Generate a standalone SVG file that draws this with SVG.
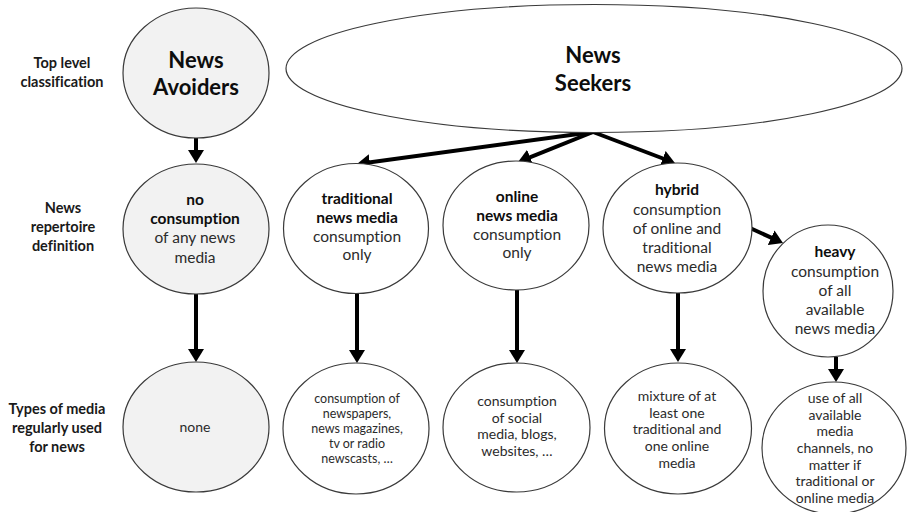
<svg xmlns="http://www.w3.org/2000/svg" width="907" height="512" viewBox="0 0 907 512">
  <style>
    text { font-family: Lato, "Open Sans", "Liberation Sans", sans-serif; text-anchor: middle; font-variant-ligatures: none; }
    .node { stroke: #3a3a3a; stroke-width: 1.2; fill: #ffffff; }
    .grey { fill: #f2f2f2; }
    .lbl { font-weight: bold; font-size: 14.5px; fill: #1a1a1a; }
    .big { font-weight: bold; font-size: 22px; fill: #0d0d0d; }
    .t { font-size: 15.5px; fill: #2b2b2b; }
    .t .b { font-weight: bold; fill: #0d0d0d; }
    .s { font-size: 12.5px; fill: #2b2b2b; }
    .m { font-size: 14px; fill: #2b2b2b; }
    .arr { stroke: #000; stroke-width: 4; fill: none; marker-end: url(#head); }
  </style>
  <defs>
    <marker id="head" markerUnits="userSpaceOnUse" viewBox="0 0 13 16" markerWidth="13" markerHeight="16" refX="3" refY="8" orient="auto">
      <path d="M0,0 L13,8 L0,16 z" fill="#000"/>
    </marker>
  </defs>

  <!-- row labels -->
  <g id="row-labels">
    <text class="lbl" x="62" y="68">Top level</text>
    <text class="lbl" x="62" y="87">classification</text>
    <text class="lbl" x="63" y="213">News</text>
    <text class="lbl" x="63" y="232">repertoire</text>
    <text class="lbl" x="63" y="251">definition</text>
    <text class="lbl" x="57" y="414">Types of media</text>
    <text class="lbl" x="57" y="433">regularly used</text>
    <text class="lbl" x="57" y="452">for news</text>
  </g>

  <!-- connectors -->
  <g id="connectors">
    <line class="arr" x1="196" y1="138" x2="196" y2="153"/>
    <line class="arr" x1="196" y1="294" x2="196" y2="352"/>
    <line class="arr" x1="593" y1="132" x2="366.9" y2="162.7"/>
    <line class="arr" x1="593" y1="132" x2="527.3" y2="158.3"/>
    <line class="arr" x1="593" y1="132" x2="665.6" y2="159.5"/>
    <line class="arr" x1="750" y1="228" x2="773.9" y2="238.9"/>
    <line class="arr" x1="357" y1="293" x2="357" y2="353"/>
    <line class="arr" x1="517" y1="290" x2="517" y2="353"/>
    <line class="arr" x1="678" y1="293" x2="678" y2="352"/>
    <line class="arr" x1="836" y1="357" x2="836" y2="372"/>
  </g>

  <!-- top level -->
  <g id="news-avoiders">
    <ellipse class="node grey" cx="196" cy="73" rx="73" ry="65"/>
    <text class="big" x="196" y="68">News</text>
    <text class="big" x="196" y="95">Avoiders</text>
  </g>
  <g id="news-seekers">
    <ellipse class="node" cx="594" cy="68.5" rx="308" ry="64"/>
    <text class="big" x="593" y="63">News</text>
    <text class="big" x="593" y="91">Seekers</text>
  </g>

  <!-- repertoire definitions -->
  <g id="no-consumption">
    <ellipse class="node grey" cx="196" cy="229" rx="73" ry="65"/>
    <text class="t" x="195" y="205"><tspan class="b">no</tspan></text>
    <text class="t" x="195" y="224"><tspan class="b">consumption</tspan></text>
    <text class="t" x="195" y="243">of any news</text>
    <text class="t" x="195" y="263">media</text>
  </g>
  <g id="traditional-only">
    <ellipse class="node" cx="356" cy="228.5" rx="72.5" ry="65"/>
    <text class="t" x="357" y="204"><tspan class="b">traditional</tspan></text>
    <text class="t" x="357" y="223"><tspan class="b">news media</tspan></text>
    <text class="t" x="357" y="242">consumption</text>
    <text class="t" x="357" y="260">only</text>
  </g>
  <g id="online-only">
    <ellipse class="node" cx="516" cy="225.5" rx="73" ry="64.5"/>
    <text class="t" x="517" y="202"><tspan class="b">online</tspan></text>
    <text class="t" x="517" y="221"><tspan class="b">news media</tspan></text>
    <text class="t" x="517" y="240">consumption</text>
    <text class="t" x="517" y="258">only</text>
  </g>
  <g id="hybrid">
    <ellipse class="node" cx="677.5" cy="228" rx="74.5" ry="65"/>
    <text class="t" x="677" y="195"><tspan class="b">hybrid</tspan></text>
    <text class="t" x="677" y="215">consumption</text>
    <text class="t" x="677" y="234">of online and</text>
    <text class="t" x="677" y="253">traditional</text>
    <text class="t" x="677" y="272">news media</text>
  </g>
  <g id="heavy">
    <ellipse class="node" cx="828" cy="291" rx="65" ry="66"/>
    <text class="t" x="835" y="257"><tspan class="b">heavy</tspan></text>
    <text class="t" x="835" y="277">consumption</text>
    <text class="t" x="835" y="296">of all</text>
    <text class="t" x="835" y="315">available</text>
    <text class="t" x="835" y="334">news media</text>
  </g>

  <!-- media types -->
  <g id="none">
    <ellipse class="node grey" cx="196" cy="427" rx="73" ry="65"/>
    <text class="m" x="195" y="432">none</text>
  </g>
  <g id="traditional-media">
    <ellipse class="node" cx="356" cy="428.5" rx="73" ry="65.5"/>
    <text class="s" x="357" y="403">consumption of</text>
    <text class="s" x="357" y="418">newspapers,</text>
    <text class="s" x="357" y="433">news magazines,</text>
    <text class="s" x="357" y="448">tv or radio</text>
    <text class="s" x="357" y="463">newscasts, …</text>
  </g>
  <g id="online-media">
    <ellipse class="node" cx="516.5" cy="427.5" rx="73.5" ry="64.5"/>
    <text class="m" x="517" y="406">consumption</text>
    <text class="m" x="517" y="423">of social</text>
    <text class="m" x="517" y="439">media, blogs,</text>
    <text class="m" x="517" y="456">websites, …</text>
  </g>
  <g id="mixed-media">
    <ellipse class="node" cx="678" cy="428.5" rx="73.5" ry="65.5"/>
    <text class="m" x="677" y="401">mixture of at</text>
    <text class="m" x="677" y="418">least one</text>
    <text class="m" x="677" y="434">traditional and</text>
    <text class="m" x="677" y="451">one online</text>
    <text class="m" x="677" y="468">media</text>
  </g>
  <g id="all-media">
    <ellipse class="node" cx="834" cy="448" rx="72" ry="66"/>
    <text class="m" x="835" y="403">use of all</text>
    <text class="m" x="835" y="420">available</text>
    <text class="m" x="835" y="436">media</text>
    <text class="m" x="835" y="453">channels, no</text>
    <text class="m" x="835" y="470">matter if</text>
    <text class="m" x="835" y="486">traditional or</text>
    <text class="m" x="835" y="503">online media</text>
  </g>
</svg>
